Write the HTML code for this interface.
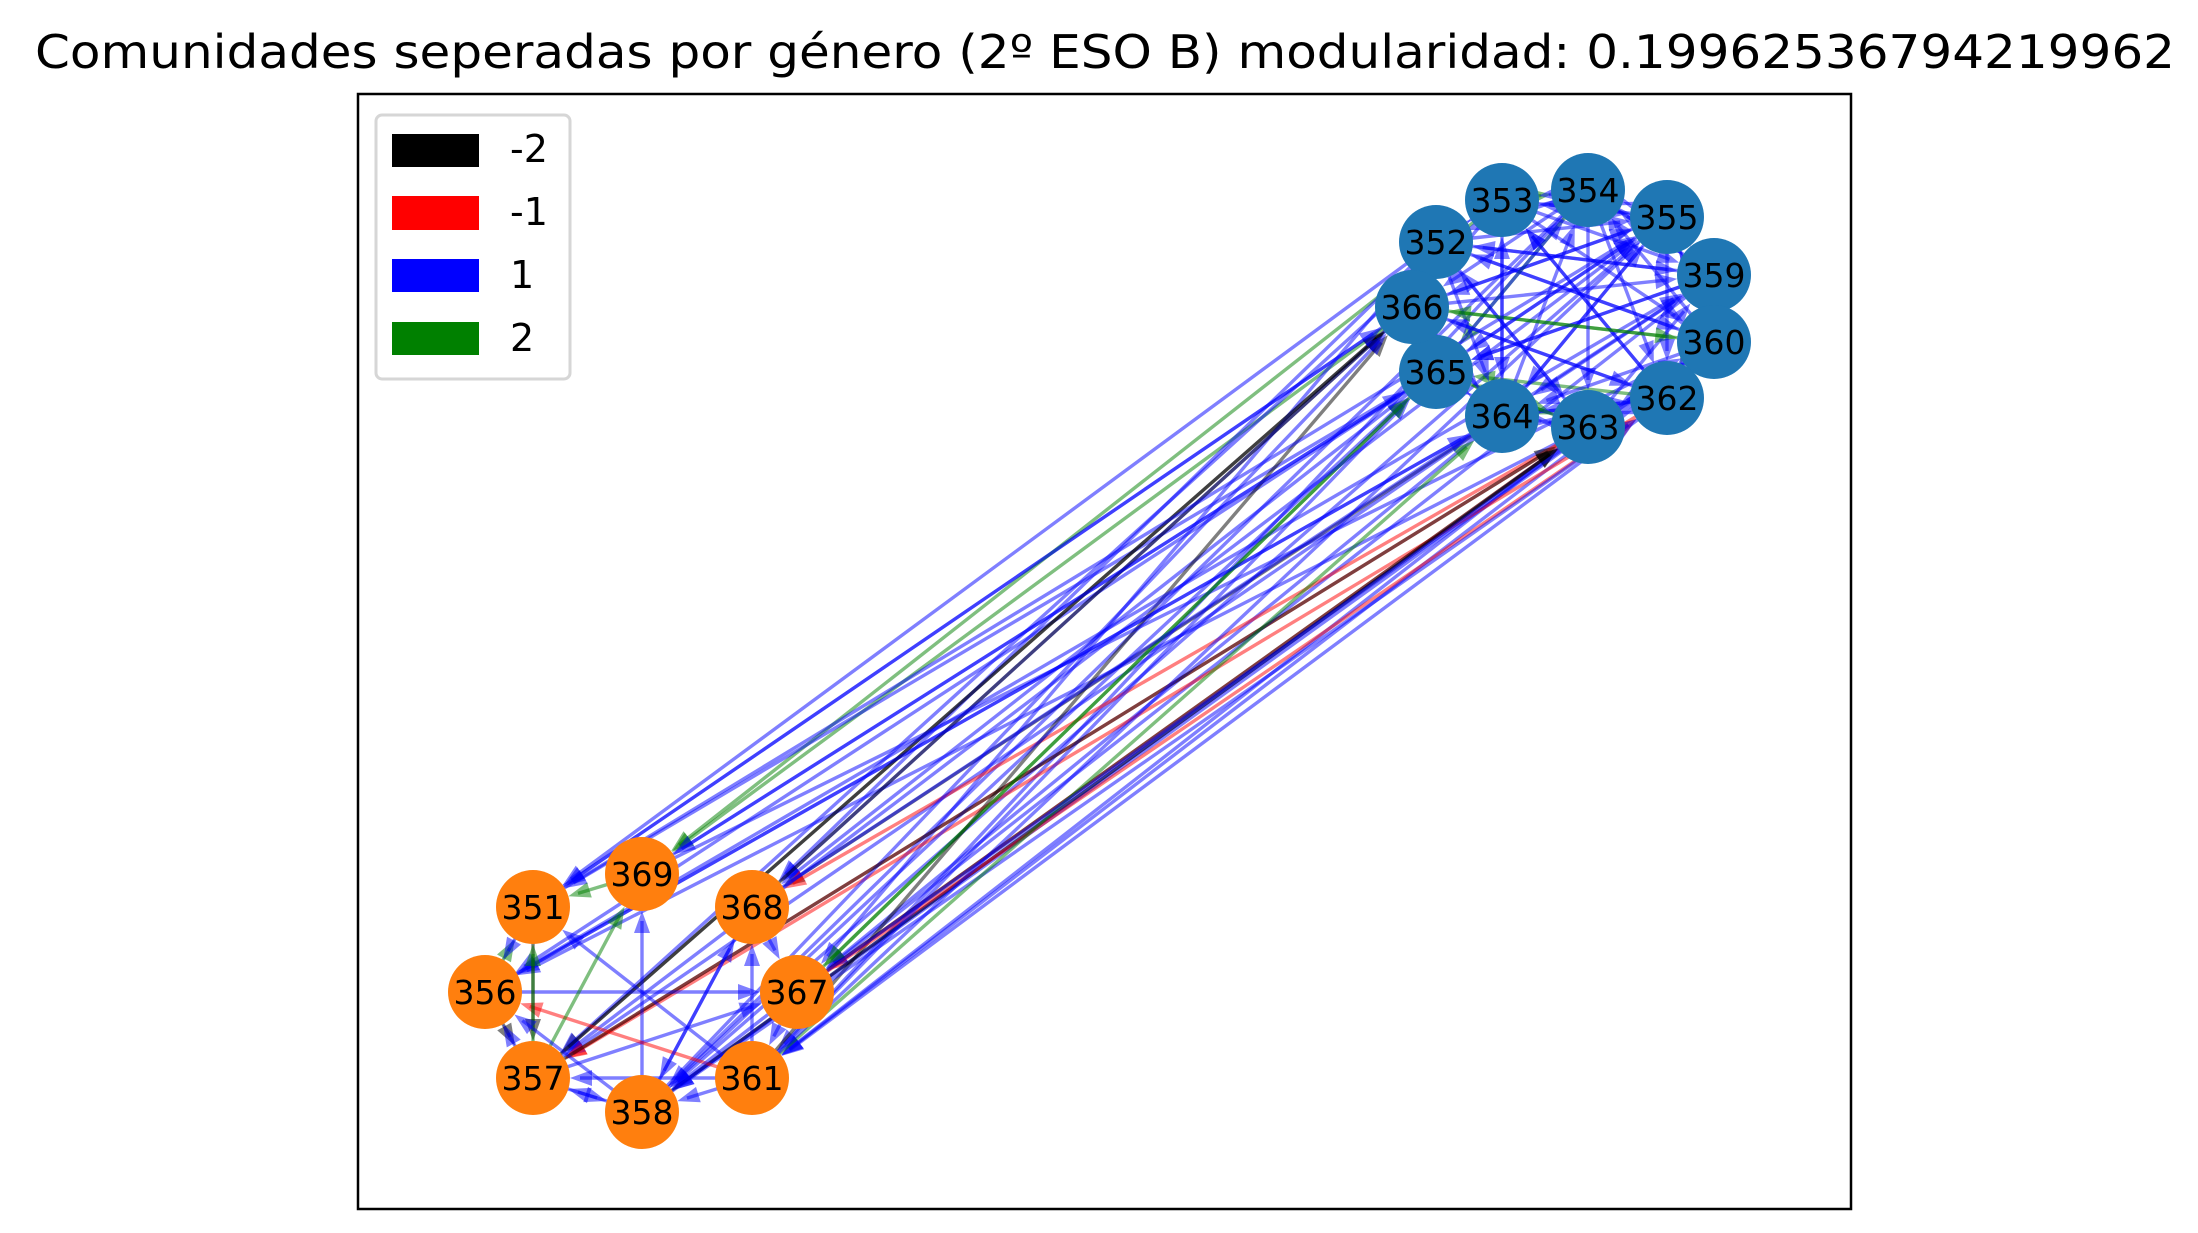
<!DOCTYPE html>
<html><head><meta charset="utf-8"><style>
html,body{margin:0;padding:0;background:#fff;}
svg{display:block;font-family:"DejaVu Sans","Liberation Sans",sans-serif;}
</style></head><body>
<svg id="chart" width="2198" height="1233" viewBox="0 0 2198 1233">
<text x="1105" y="68" font-size="46" text-anchor="middle" textLength="2140" lengthAdjust="spacingAndGlyphs">Comunidades seperadas por género (2º ESO B) modularidad: 0.19962536794219962</text>
<rect x="358" y="94" width="1493" height="1115" fill="none" stroke="#000" stroke-width="2.5"/>
<g id="edges"></g>
<g id="nodes"></g>
<g>
<rect x="376" y="115" width="194" height="264" rx="6" fill="#fff" fill-opacity="0.8" stroke="#d6d6d6" stroke-width="3"/>
<g><rect x="392" y="134" width="87" height="33" fill="#000"/><text x="510" y="162" font-size="38">-2</text></g>
<g><rect x="392" y="196" width="87" height="34" fill="#ff0000"/><text x="510" y="225" font-size="38">-1</text></g>
<g><rect x="392" y="259" width="87" height="33" fill="#0000ff"/><text x="510" y="288" font-size="38">1</text></g>
<g><rect x="392" y="322" width="87" height="33" fill="#008000"/><text x="510" y="351" font-size="38">2</text></g>
</g>
</svg>
<script>
const nodeIds = [352,353,354,355,359,360,362,363,364,365,366,351,369,368,356,367,357,361,358];
const nodeX = [1436,1502,1588,1667,1714,1714,1667,1588,1502,1436,1412,533,642,752,485,797,533,752,642];
const nodeY = [242,200,190,217,275,342,398,427,416,372,307,907,874,907,992,992,1078,1078,1112];
const nodeGroup = ['b','b','b','b','b','b','b','b','b','b','b','o','o','o','o','o','o','o','o'];
// edges: [source, target, weight]
const crossEdges = [
[366,351,1],[366,369,2],[352,351,1],[353,369,2],[365,356,1],[365,351,1],[364,356,1],[364,368,-2],
[363,357,-1],[363,367,-1],[366,357,-2],[365,369,1],[364,367,1],[362,361,1],[360,361,1],[359,367,1],
[355,358,1],[354,358,1],[352,368,1],[363,358,1],[363,361,1],[363,356,1],[364,357,1],[365,368,1],
[366,368,1],[352,367,1],[353,357,1],[354,361,1],[360,358,1],[362,357,-1],[363,368,-1],[365,367,2],
[357,366,-2],[368,366,-2],[361,366,-2],[358,363,-2],[367,363,-2],[367,362,-1],[358,365,1],[358,366,1],
[361,365,1],[356,359,1],[369,360,1],[351,355,1],[358,362,1],[357,363,-2],[361,364,2],[367,365,2],
[356,364,1],[351,366,1],[369,365,1],[357,355,1],[368,359,1],[367,360,1],[361,355,1]
];
const orangeEdges = [
[356,367,1],[358,369,1],[361,351,1],[357,358,1],[357,367,1],[358,368,1],[361,368,1],[368,367,1],
[361,356,-1],[357,369,2],[356,357,-2],[351,357,-2],[357,351,2],[361,358,1],[358,357,1],[367,361,1],
[369,351,2],[357,356,1],[358,356,1],[361,357,1],[356,351,2],[367,358,1],[368,358,1],[351,356,1]
];
const blueEdges = [
[352,353,1],[352,355,1],[352,360,1],[353,354,2],[353,364,1],[354,359,1],[354,362,1],[355,360,1],
[355,366,1],[359,362,2],[359,365,1],[360,363,1],[360,352,1],[362,365,2],[362,353,1],[363,352,1],
[364,354,1],[365,352,1],[366,355,1],[366,359,1],[353,355,1],[354,365,2],[355,364,1],[359,364,1],
[360,364,1],[362,353,1],[363,359,1],[364,355,1],[365,354,1],[366,360,2],[352,363,1],[354,366,1],
[359,365,1],[362,366,1],[365,363,2],[364,362,1],[366,364,1],[352,364,1],[355,353,1],[360,355,1],
[353,366,1],[354,352,1],[355,362,1],[359,360,1],[360,366,2],[362,364,1],[363,364,1],[364,365,1],
[365,366,1],[366,352,1],[353,359,1],[354,363,1],[355,365,1],[359,352,1],[360,354,1],[362,363,1],
[363,365,2],[364,366,1],[365,355,1],[366,362,1],[352,359,1],[353,360,1],[354,355,1],[355,359,1],
[359,355,1],[360,362,1],[362,360,1],[363,362,1],[364,353,1],[365,364,1],[366,365,2],[352,366,1],
[353,352,1],[354,353,1],[355,354,1],[359,354,1],[360,359,1],[362,359,1],[363,360,1],[364,363,1]
];
const colorFor = {'-2':'#000000','-1':'#ff0000','1':'#0000ff','2':'#008000'};
const NS='http://www.w3.org/2000/svg';
const R=37;
const eg=document.getElementById('edges');
function pos(id){const i=nodeIds.indexOf(id);return i<0?null:[nodeX[i],nodeY[i]];}
function drawEdge(e){
  const a=pos(e[0]),b=pos(e[1]);if(!a||!b)return;
  const [x1,y1]=a,[x2,y2]=b;
  const dx=x2-x1,dy=y2-y1,L=Math.hypot(dx,dy);if(L<1)return;const ux=dx/L,uy=dy/L;
  const tx=x2-ux*R,ty=y2-uy*R;
  const c=colorFor[String(e[2])];
  const line=document.createElementNS(NS,'line');
  
  
  line.setAttribute('x1',x1);line.setAttribute('y1',y1);
  line.setAttribute('x2',tx-ux*10);line.setAttribute('y2',ty-uy*10);
  line.setAttribute('stroke',c);line.setAttribute('stroke-width',3.4);line.setAttribute('stroke-opacity',0.5);
  eg.appendChild(line);
  const hl=22,hw=8;const bx=tx-ux*hl,by=ty-uy*hl;
  const head=document.createElementNS(NS,'polygon');
  
  
  head.setAttribute('points',tx+','+ty+' '+(bx-uy*hw)+','+(by+ux*hw)+' '+(bx+uy*hw)+','+(by-ux*hw));
  head.setAttribute('fill',c);head.setAttribute('fill-opacity',0.5);
  eg.appendChild(head);
}
crossEdges.forEach(drawEdge);orangeEdges.forEach(drawEdge);blueEdges.forEach(drawEdge);
const ng=document.getElementById('nodes');
for(let i=0;i<nodeIds.length;i++){
  const g=document.createElementNS(NS,'g');
  
  
  const c=document.createElementNS(NS,'circle');
  c.setAttribute('cx',nodeX[i]);c.setAttribute('cy',nodeY[i]);c.setAttribute('r',R);
  c.setAttribute('fill',nodeGroup[i]==='b'?'#1f77b4':'#ff7f0e');
  g.appendChild(c);
  const t=document.createElementNS(NS,'text');
  t.setAttribute('x',nodeX[i]);t.setAttribute('y',nodeY[i]+12);
  t.setAttribute('font-size',33);t.setAttribute('text-anchor','middle');
  t.textContent=nodeIds[i];
  g.appendChild(t);
  ng.appendChild(g);
}
</script>
</body></html>
